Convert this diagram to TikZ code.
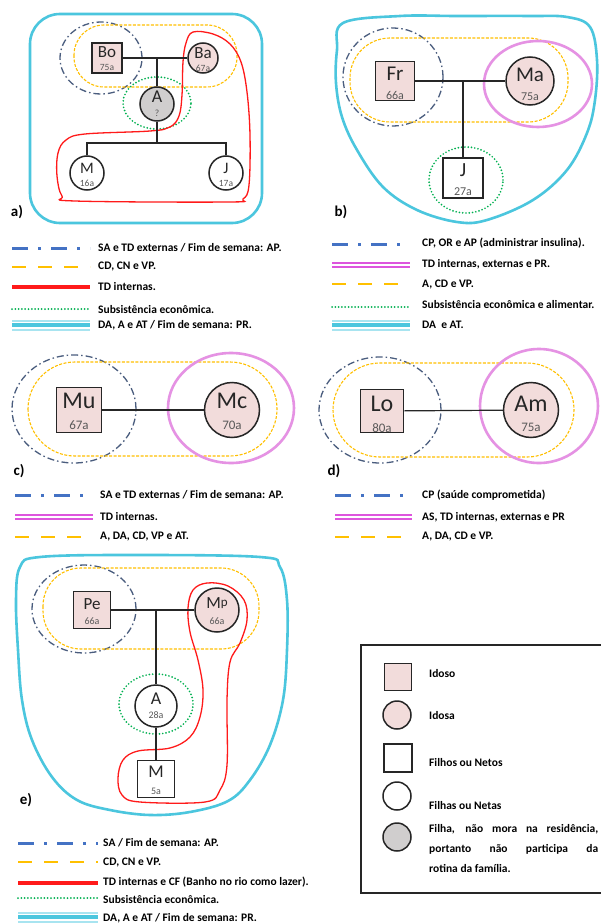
\documentclass[tikz,border=0pt]{standalone}
\usepackage{fontspec}
\setmainfont{Carlito}
\usetikzlibrary{shapes.geometric}
\definecolor{pinkf}{HTML}{F2DCDB}
\definecolor{grayf}{HTML}{D0CECE}
\definecolor{cyanl}{HTML}{4BC6DE}
\definecolor{cyanp}{HTML}{A8E4F0}
\definecolor{blueg}{HTML}{4A5D7E}
\definecolor{bluel}{HTML}{4472C4}
\definecolor{yell}{HTML}{FFC000}
\definecolor{redc}{HTML}{FF1A1A}
\definecolor{greenl}{HTML}{00B050}
\definecolor{magl}{HTML}{E592E3}
\definecolor{magd}{HTML}{DD55DD}
\definecolor{agec}{HTML}{595959}
\definecolor{ink}{HTML}{262626}
\newcommand{\myfs}[1]{\fontsize{#1}{#1}\selectfont}
\begin{document}
\begin{tikzpicture}[x=1pt,y=-1pt,
  sq/.style={draw=ink, line width=1.5pt, rectangle, inner sep=0pt},
  ci/.style={draw=ink, line width=1.5pt, circle, inner sep=0pt},
  nm/.style={inner sep=0pt, text=ink},
  ag/.style={inner sep=0pt, text=agec},
  link/.style={draw=ink, line width=1.2pt},
  plabel/.style={inner sep=0pt, font=\bfseries\myfs{15}},
  lg/.style={anchor=west, inner sep=0pt, font=\bfseries\myfs{11.5}},
  cyanbd/.style={draw=cyanl, line width=2.6pt},
  bluedd/.style={draw=blueg, line width=1.3pt, dash pattern=on 7pt off 3pt on 1.5pt off 3pt},
  yelld/.style={draw=yell, line width=1.1pt, dash pattern=on 3pt off 1.5pt},
  greend/.style={draw=greenl, line width=1.9pt, line cap=round, dash pattern=on 0pt off 3.3pt},
  redd/.style={draw=redc, line width=1.3pt},
  magc/.style={draw=magl, line width=2.6pt},
  lblue/.style={draw=bluel, line width=3pt, dash pattern=on 16pt off 10pt on 3pt off 10pt},
  lyel/.style={draw=yell, line width=2.6pt, dash pattern=on 14pt off 12pt},
  lred/.style={draw=redc, line width=3.5pt},
  lgreen/.style={draw=greenl, line width=2pt, line cap=round, dash pattern=on 0pt off 3.3pt},
]
\useasboundingbox (0,0) rectangle (600,923);
\fill[white] (0,0) rectangle (600,923);

% ================= panel a =================
\draw[cyanbd, rounded corners=30pt] (30,14) rectangle (262,223);
\draw[bluedd] (101,58) ellipse [x radius=41pt, y radius=36pt];
\draw[yelld, rounded corners=30pt] (74,25) rectangle (237,87);
\draw[greend] (157,103) ellipse [x radius=34pt, y radius=26pt];
\draw[redd] plot[smooth cycle, tension=0.6] coordinates {(193,32) (213,34) (230,44) (241,62) (247,92) (250,135) (249,185) (243,199) (228,202) (75,201) (62,196) (57,176) (58,153) (66,140) (85,134) (150,131) (170,127) (179,116) (182,95) (183,62) (186,43)};
\node[sq, fill=pinkf, minimum size=30pt] (aBo) at (107,58) {};
\node[ci, fill=pinkf, minimum size=30pt] (aBa) at (203,58) {};
\node[ci, fill=grayf, minimum size=34pt] (aA) at (157,104) {};
\node[ci, fill=white, minimum size=34pt] (aM) at (87,173) {};
\node[ci, fill=white, minimum size=34pt] (aJ) at (226,173) {};
\coordinate (aU) at (157,58);
\coordinate (aC) at (157,143);
\draw[link] (aBo) -- (aBa);
\draw[link] (aU) -- (aA);
\draw[link] (aA) -- (aC);
\draw[link] (aM) |- (aC) -| (aJ);
\node[nm, font=\myfs{17}] (aBot) at (107,52) {Bo};
\node[ag, font=\myfs{9.5}] (aBoa) at (107,67) {75a};
\node[nm, font=\myfs{17}] (aBat) at (203,53) {Ba};
\node[ag, font=\myfs{9.5}] (aBaa) at (203,68) {67a};
\node[nm, font=\myfs{18}] (aAt) at (157,97) {A};
\node[ag, font=\myfs{9.5}] (aAa) at (157,113) {?};
\node[nm, font=\myfs{16}] (aMt) at (87,168) {M};
\node[ag, font=\myfs{9.5}] (aMa) at (87,183) {16a};
\node[nm, font=\myfs{16}] (aJt) at (226,168) {J};
\node[ag, font=\myfs{9.5}] (aJa) at (226,183) {17a};
\node[plabel] (la) at (17,212) {a)};

% legend a
\draw[lblue] (12,248) -- (90,248);
\draw[lyel] (12,267) -- (90,267);
\draw[lred] (12,287) -- (90,287);
\draw[lgreen] (12,309) -- (90,309);
\draw[cyanp, line width=11pt] (12,325) -- (90,325);
\draw[white, line width=7pt] (12,325) -- (90,325);
\draw[cyanl, line width=4pt] (12,325) -- (90,325);
\node[lg] (la1) at (98,248) {SA e TD externas / Fim de semana: AP.};
\node[lg] (la2) at (98,267) {CD, CN e VP.};
\node[lg] (la3) at (98,287) {TD internas.};
\node[lg] (la4) at (98,310) {Subsistência econômica.};
\node[lg] (la5) at (98,325) {DA, A e AT / Fim de semana: PR.};

% ================= panel b =================
\draw[cyanbd] plot[smooth cycle, tension=0.6] coordinates {(343,23) (400,16) (457,16) (530,16) (567,17) (590,27) (597,60) (595,100) (587,133) (567,170) (533,200) (487,220) (457,222) (417,210) (383,187) (357,150) (342,117) (336,83) (337,50)};
\draw[bluedd] (393,77) ellipse [x radius=50pt, y radius=49pt];
\draw[yelld, rounded corners=40pt] (350,38) rectangle (568,122);
\draw[magc] (538,84) ellipse [x radius=54pt, y radius=43pt];
\draw[greend] (466,180) ellipse [x radius=37pt, y radius=33pt];
\node[sq, fill=pinkf, minimum size=39pt] (bFr) at (395,81) {};
\node[ci, fill=pinkf, minimum size=48pt] (bMa) at (530,81) {};
\node[sq, fill=white, minimum size=40pt] (bJ) at (463,178) {};
\coordinate (bU) at (463,81);
\draw[link] (bFr) -- (bMa);
\draw[link] (bU) -- (bJ);
\node[nm, font=\myfs{21}] (bFrt) at (395,74) {Fr};
\node[ag, font=\myfs{12}] (bFra) at (395,95) {66a};
\node[nm, font=\myfs{21}] (bMat) at (530,75) {Ma};
\node[ag, font=\myfs{12}] (bMaa) at (530,97) {75a};
\node[nm, font=\myfs{20}] (bJt) at (463,170) {J};
\node[ag, font=\myfs{12}] (bJa) at (463,192) {27a};
\node[plabel] (lb) at (341,212) {b)};

% legend b
\draw[lblue] (332,244) -- (410,244);
\draw[magd, line width=6.5pt] (332,265) -- (410,265);
\draw[white, line width=2.5pt] (332,265) -- (410,265);
\draw[lyel] (332,284) -- (410,284);
\draw[lgreen] (332,307) -- (410,307);
\draw[cyanp, line width=11pt] (332,325) -- (410,325);
\draw[white, line width=7pt] (332,325) -- (410,325);
\draw[cyanl, line width=4pt] (332,325) -- (410,325);
\node[lg] (lb1) at (422,243) {CP, OR e AP (administrar insulina).};
\node[lg] (lb2) at (422,264) {TD internas, externas e PR.};
\node[lg] (lb3) at (422,285) {A, CD e VP.};
\node[lg] (lb4) at (422,305) {Subsistência econômica e alimentar.};
\node[lg] (lb5) at (422,325) {DA \ e AT.};

% ================= panel c =================
\draw[bluedd] (74,409) ellipse [x radius=62pt, y radius=54pt];
\draw[yelld, rounded corners=47pt] (28,362) rectangle (277,456);
\draw[magc] (231,408) ellipse [x radius=63pt, y radius=55pt];
\node[sq, fill=pinkf, minimum size=45pt] (cMu) at (79,410) {};
\node[ci, fill=pinkf, minimum size=55pt] (cMc) at (232,410) {};
\draw[link] (cMu) -- (cMc);
\node[nm, font=\myfs{24}] (cMut) at (79,401) {Mu};
\node[ag, font=\myfs{13}] (cMua) at (79,425) {67a};
\node[nm, font=\myfs{24}] (cMct) at (232,401) {Mc};
\node[ag, font=\myfs{13}] (cMca) at (232,425) {70a};
\node[plabel] (lc) at (19,471) {c)};

% legend c
\draw[lblue] (15,495) -- (93,495);
\draw[magd, line width=6.5pt] (15,517) -- (93,517);
\draw[white, line width=2.5pt] (15,517) -- (93,517);
\draw[lyel] (15,537) -- (93,537);
\node[lg] (lc1) at (100,495) {SA e TD externas / Fim de semana: AP.};
\node[lg] (lc2) at (100,517) {TD internas.};
\node[lg] (lc3) at (100,537) {A, DA, CD, VP e AT.};

% ================= panel d =================
\draw[bluedd] (380,410) ellipse [x radius=61pt, y radius=53pt];
\draw[yelld, rounded corners=47pt] (333,363) rectangle (574,457);
\draw[magc] (539,406) ellipse [x radius=59pt, y radius=57pt];
\node[sq, fill=pinkf, minimum size=43pt] (dLo) at (382,411) {};
\node[ci, fill=pinkf, minimum size=55pt] (dAm) at (531,410) {};
\draw[link] (dLo) -- (dAm);
\node[nm, font=\myfs{24}] (dLot) at (382,404) {Lo};
\node[ag, font=\myfs{13}] (dLoa) at (382,428) {80a};
\node[nm, font=\myfs{24}] (dAmt) at (531,404) {Am};
\node[ag, font=\myfs{13}] (dAma) at (531,427) {75a};
\node[plabel] (ld) at (334,471) {d)};

% legend d
\draw[lblue] (335,495) -- (412,495);
\draw[magd, line width=6.5pt] (335,517) -- (412,517);
\draw[white, line width=2.5pt] (335,517) -- (412,517);
\draw[lyel] (335,537) -- (412,537);
\node[lg] (ld1) at (422,495) {CP (saúde comprometida)};
\node[lg] (ld2) at (422,517) {AS, TD internas, externas e PR};
\node[lg] (ld3) at (422,537) {A, DA, CD e VP.};

% ================= panel e =================
\draw[cyanbd] plot[smooth cycle, tension=0.6] coordinates {(20,567) (40,557) (133,555) (260,557) (280,567) (287,600) (287,650) (283,700) (270,745) (250,780) (228,801) (190,812) (150,815) (110,810) (77,800) (52,777) (32,740) (22,700) (18,650) (16,600)};
\draw[bluedd] (84,609) ellipse [x radius=52pt, y radius=44pt];
\draw[yelld, rounded corners=38pt] (43,568) rectangle (259,649);
\draw[greend] (156,704) ellipse [x radius=37pt, y radius=30pt];
\draw[redd] plot[smooth cycle, tension=0.6] coordinates {(207,583) (228,586) (244,600) (247,620) (240,643) (230,662) (227,700) (227,765) (220,790) (205,802) (140,802) (122,795) (118,778) (123,760) (138,751) (170,748) (190,737) (200,717) (203,690) (198,660) (190,632) (188,608) (193,590)};
\node[sq, fill=pinkf, minimum size=37pt] (ePe) at (92,610) {};
\node[ci, fill=pinkf, minimum size=44pt] (eMp) at (217,610) {};
\node[ci, fill=white, minimum size=42pt] (eA) at (156,706) {};
\node[sq, fill=white, minimum size=37pt] (eM) at (156,779) {};
\coordinate (eU) at (156,610);
\draw[link] (ePe) -- (eMp);
\draw[link] (eU) -- (eA);
\draw[link] (eA) -- (eM);
\node[nm, font=\myfs{17}] (ePet) at (92,604) {Pe};
\node[ag, font=\myfs{10}] (ePea) at (92,621) {66a};
\node[nm, font=\myfs{17}] (eMpt) at (217,603) {M\raisebox{1.5pt}{\myfs{13}p}};
\node[ag, font=\myfs{10}] (eMpa) at (217,621) {66a};
\node[nm, font=\myfs{18}] (eAt) at (156,699) {A};
\node[ag, font=\myfs{10}] (eAa) at (156,715) {28a};
\node[nm, font=\myfs{18}] (eMt) at (156,772) {M};
\node[ag, font=\myfs{10}] (eMa) at (156,791) {5a};
\node[plabel] (le) at (26,800) {e)};

% legend e
\draw[lblue] (18,843) -- (98,843);
\draw[lyel] (18,862) -- (98,862);
\draw[lred] (18,883) -- (98,883);
\draw[lgreen] (18,898) -- (98,898);
\draw[cyanp, line width=11pt] (18,917) -- (98,917);
\draw[white, line width=7pt] (18,917) -- (98,917);
\draw[cyanl, line width=4pt] (18,917) -- (98,917);
\node[lg] (le1) at (103,843) {SA / Fim de semana: AP.};
\node[lg] (le2) at (103,862) {CD, CN e VP.};
\node[lg] (le3) at (103,882) {TD internas e CF (Banho no rio como lazer).};
\node[lg] (le4) at (103,899) {Subsistência econômica.};
\node[lg] (le5) at (103,918) {DA, A e AT / Fim de semana: PR.};

% ================= key box =================
\draw[draw=ink, line width=1.6pt] (601,645) -- (361,645) -- (361,893) -- (601,893);
\node[sq, fill=pinkf, minimum size=27pt] (kSq1) at (398,677) {};
\node[ci, fill=pinkf, minimum size=28pt] (kCi1) at (397,715) {};
\node[sq, fill=white, minimum size=28pt] (kSq2) at (398,758) {};
\node[ci, fill=white, minimum size=28pt] (kCi2) at (397,796) {};
\node[ci, fill=grayf, minimum size=28pt] (kCi3) at (397,837) {};
\node[lg] (k1) at (429,673) {Idoso};
\node[lg] (k2) at (429,715) {Idosa};
\node[lg] (k3) at (429,762) {Filhos ou Netos};
\node[lg] (k4) at (429,805) {Filhas ou Netas};
\node[anchor=north west, inner sep=0pt, text width=169pt, align=justify, font=\bfseries\fontsize{11.5}{20}\selectfont] (k5) at (429,824) {Filha, não mora na residência,\linebreak portanto não participa da\linebreak rotina da família.};
\end{tikzpicture}
\end{document}
